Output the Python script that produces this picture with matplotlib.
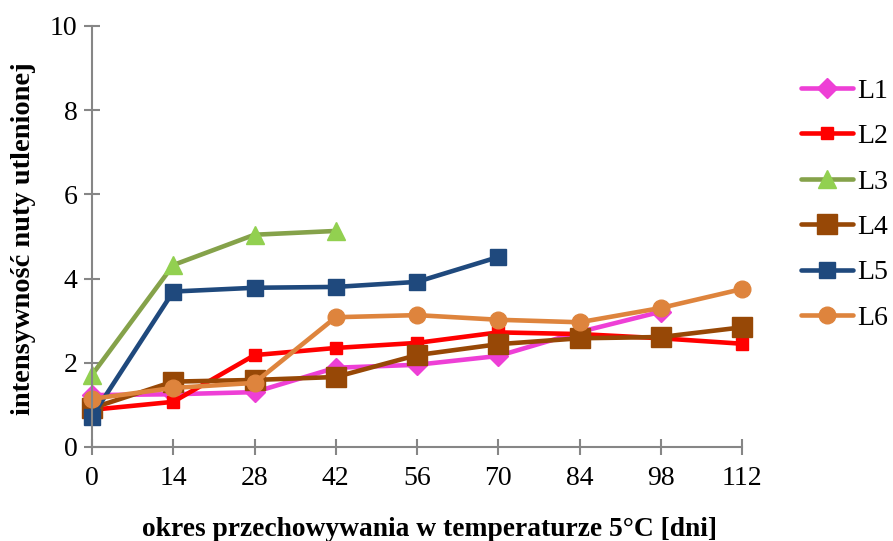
import matplotlib
matplotlib.use("Agg")
import matplotlib.pyplot as plt

days = [0, 14, 28, 42, 56, 70, 84, 98, 112]
series_names = ["L1", "L2", "L3", "L4", "L5", "L6"]

L1 = [1.23, 1.25, 1.30, 1.88, 1.95, 2.16, 2.73, 3.21]
L2 = [0.88, 1.07, 2.18, 2.35, 2.47, 2.72, 2.68, 2.58, 2.45]
L3 = [1.71, 4.32, 5.04, 5.13]
L4 = [0.92, 1.55, 1.59, 1.66, 2.18, 2.44, 2.58, 2.61, 2.84]
L5 = [0.72, 3.69, 3.78, 3.80, 3.92, 4.51]
L6 = [1.14, 1.40, 1.52, 3.08, 3.13, 3.02, 2.96, 3.30, 3.75]

values = [L1, L2, L3, L4, L5, L6]
line_colors = ["#EE3FD6", "#FF0000", "#85A24A", "#974806", "#1F497D", "#DE843D"]
marker_colors = ["#EE3FD6", "#FF0000", "#92D050", "#974806", "#1F497D", "#DE843D"]
markers = ["D", "s", "^", "s", "s", "o"]
marker_sizes = [10, 9, 13, 14, 12, 12]

plt.rcParams["font.family"] = ["Liberation Serif", "DejaVu Serif"]

fig = plt.figure(figsize=(8.93, 5.41), dpi=100)
ax = fig.add_axes([0.103, 0.174, 0.728, 0.778])

for name, vals, lc, mc, m, ms in zip(series_names, values, line_colors,
                                     marker_colors, markers, marker_sizes):
    ax.plot(days[:len(vals)], vals, color=lc, linewidth=3.3, marker=m,
            markersize=ms, markerfacecolor=mc, markeredgecolor=mc,
            label=name, solid_capstyle="round")

ax.set_xlim(0, 112)
ax.set_ylim(0, 10)
ax.set_xticks(days)
ax.set_yticks([0, 2, 4, 6, 8, 10])

for side in ["top", "right"]:
    ax.spines[side].set_visible(False)
for side in ["left", "bottom"]:
    ax.spines[side].set_color("#868686")
    ax.spines[side].set_linewidth(1.5)
    ax.spines[side].set_clip_on(False)

ax.tick_params(axis="both", direction="inout", length=11, width=1.5,
               color="#868686", labelsize=20, labelcolor="black")
ax.tick_params(axis="x", pad=8)
ax.tick_params(axis="y", pad=5)

for line in ax.get_lines():
    line.set_clip_on(False)

fig.text(0.481, 0.009, "okres przechowywania w temperaturze 5°C [dni]",
         ha="center", va="baseline", fontsize=19.8, fontweight="bold")
fig.text(0.026, 0.558, "intensywność nuty utlenionej", rotation=90,
         ha="center", va="center", fontsize=20.5, fontweight="bold")

leg = fig.legend(loc="upper left", bbox_to_anchor=(0.885, 0.876),
                 frameon=False, fontsize=20, handlelength=1.85,
                 handletextpad=0.15, labelspacing=0.72, borderaxespad=0)

fig.savefig("out.png", dpi=100)
